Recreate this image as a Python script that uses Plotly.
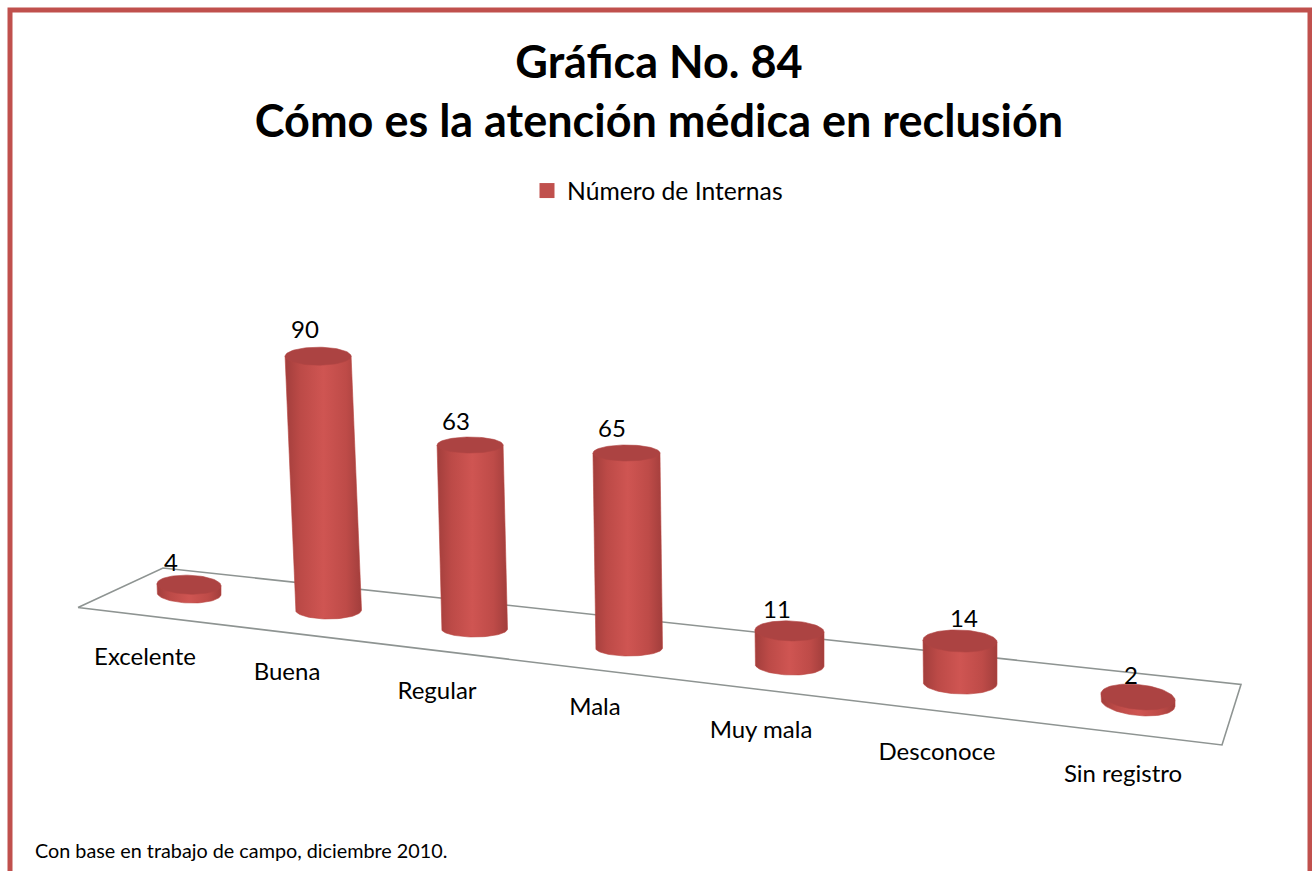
import numpy as np
import plotly.graph_objects as go

categories = ["Excelente", "Buena", "Regular", "Mala", "Muy mala", "Desconoce", "Sin registro"]
values = [4, 90, 63, 65, 11, 14, 2]
series_name = "Número de Internas"
title_lines = ["Gráfica No. 84", "Cómo es la atención médica en reclusión"]
footnote = "Con base en trabajo de campo, diciembre 2010."

# Perspective of the floor, in picture pixels (axes below run in pixels)
base_x = [189, 328.5, 474.5, 629, 789.5, 960, 1138]
base_y = [593.5, 610, 629, 648, 665, 683, 703]
radius_x = [32, 33, 33, 33.5, 34.5, 37, 37]
radius_y = [9.5, 9, 8, 8, 10, 11, 12.5]
unit_px = [2.2, 2.82, 2.92, 3.0, 3.1, 3.0, 3.0]
lean = [0, 0.041, 0.024, 0.013, 0, 0, 0]
skew = [0.03, 0.0, 0.0, 0.0, 0.03, 0.03, 0.09]
floor_x = [78, 163, 1241, 1222, 78]
floor_y = [607.5, 568, 684.5, 745, 607.5]
label_x = [145, 287, 437, 595, 761, 937, 1123]
label_y = [659, 674, 693, 709, 732, 754, 776]
value_x = [171, 305, 456, 612, 777, 964, 1131]
value_y = [565, 332, 424, 431, 612, 621, 678]

RED = "#C0504D"
FONT = "Lato"
side_scale = [[0, "#A23E3C"], [0.2, "#BC4A47"], [0.5, "#CF5552"], [0.8, "#BE4B48"], [1, "#A23E3C"]]
cap_color = "#AC4342"

fig = go.Figure()
fig.add_trace(go.Scatter(x=floor_x, y=floor_y, mode="lines", fill="toself", fillcolor="white",
                         line=dict(color="#8E9492", width=1.6), showlegend=False, hoverinfo="skip"))

t_low = np.linspace(np.pi, 0, 40)   # lower half of an ellipse (y runs downward in the axis)
t_full = np.linspace(0, 2 * np.pi, 80)
for i, v in enumerate(values):
    h = v * unit_px[i]
    cx0, cy0 = base_x[i], base_y[i]
    cx1, cy1 = cx0 - lean[i] * h, cy0 - h
    rx, ry, sk = radius_x[i], radius_y[i], skew[i]
    ex, ey = rx * np.cos(t_low), ry * np.sin(t_low)
    xs = np.concatenate([[cx1 - rx], cx0 + ex, [cx1 + rx, cx1 - rx]])
    ys = np.concatenate([[cy1 - sk * rx], cy0 + ey + sk * ex, [cy1 + sk * rx, cy1 - sk * rx]])
    fig.add_trace(go.Scatter(x=xs.tolist(), y=ys.tolist(), mode="lines", fill="toself",
                             line=dict(width=0.6, color="#B8453F"),
                             fillgradient=dict(type="horizontal", colorscale=side_scale),
                             showlegend=False, name=categories[i], hoverinfo="skip"))
    fx, fy = rx * np.cos(t_full), ry * np.sin(t_full)
    fig.add_trace(go.Scatter(x=(cx1 + fx).tolist(), y=(cy1 + fy + sk * fx).tolist(), mode="lines",
                             fill="toself", fillcolor=cap_color, line=dict(width=0.6, color="#B04543"),
                             showlegend=False, hoverinfo="skip"))

fig.add_trace(go.Scatter(x=[None], y=[None], mode="markers", name=series_name,
                         marker=dict(symbol="square", size=15, color=RED)))
fig.add_trace(go.Scatter(x=label_x, y=label_y, mode="text", text=categories, textposition="middle center",
                         textfont=dict(family=FONT, size=24, color="black"), showlegend=False, hoverinfo="skip"))
fig.add_trace(go.Scatter(x=value_x, y=value_y, mode="text", text=[str(v) for v in values],
                         textposition="middle center", textfont=dict(family=FONT, size=24, color="black"),
                         showlegend=False, hoverinfo="skip"))

fig.update_layout(
    width=1312, height=871, autosize=False,
    margin=dict(l=0, r=0, t=0, b=0),
    paper_bgcolor="white", plot_bgcolor="white",
    xaxis=dict(range=[0, 1312], visible=False, fixedrange=True),
    yaxis=dict(range=[871, 0], visible=False, fixedrange=True),
    font=dict(family=FONT, color="black"),
    title=dict(text="<b>" + "<br>".join(title_lines) + "</b>", x=659 / 1312, xanchor="center",
               y=1 - 78 / 871, yanchor="middle", font=dict(family=FONT, size=45, color="black")),
    showlegend=True,
    legend=dict(orientation="h", x=527 / 1312, y=1 - 191 / 871, xanchor="left", yanchor="middle",
                font=dict(family=FONT, size=24.7, color="black"), bgcolor="rgba(0,0,0,0)"),
    shapes=[dict(type="path", xref="x", yref="y", path="M 10 880 L 10 10 L 1310 10 L 1310 880",
                 line=dict(color=RED, width=5), fillcolor="rgba(0,0,0,0)")],
    annotations=[dict(text=footnote, x=32.5 / 1312, y=1 - 850 / 871, xref="paper", yref="paper",
                      xanchor="left", yanchor="middle", showarrow=False,
                      font=dict(family=FONT, size=19.8, color="black"))],
)
fig.write_html("out.html", config={"displayModeBar": False},
               post_script="document.body.style.margin='0';document.body.style.overflow='hidden';")
